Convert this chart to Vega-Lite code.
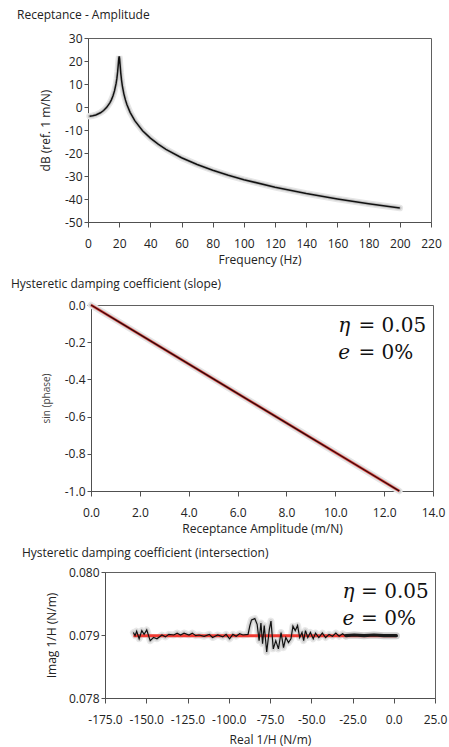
{
  "$schema": "https://vega.github.io/schema/vega-lite/v6.json",
  "padding": {"left": 11, "top": 8, "right": 5, "bottom": 4},
  "spacing": 11,
  "config": {
    "font": "Open Sans",
    "view": {"stroke": "#606060", "strokeWidth": 1},
    "axis": {"grid": false, "domainColor": "#505050", "tickColor": "#505050", "labelFont": "Open Sans", "labelFontSize": 12, "labelColor": "#222", "titleFont": "Open Sans", "titleFontSize": 12, "titleFontWeight": "normal", "titleColor": "#222", "labelOverlap": false, "labelFlush": false},
    "axisX": {"tickSize": 5, "labelPadding": 11, "titlePadding": 5.5},
    "axisY": {"tickSize": 4, "labelPadding": 2},
    "title": {"anchor": "start", "frame": "group", "fontSize": 12, "fontWeight": "normal", "font": "Open Sans", "color": "#222", "offset": 8}
  },
  "vconcat": [
    {
      "title": {"text": "Receptance - Amplitude", "dx": 0, "offset": 10},
      "spacing": 0,
      "hconcat": [
        {"width": 21, "height": 1, "view": {"stroke": null}, "data": {"values": []}, "mark": "point"},
        {
          "width": 343, "height": 184,
          "data": {"values": [
            {"x": 1, "y": -3.99}, {"x": 3, "y": -3.81}, {"x": 5, "y": -3.45}, {"x": 8, "y": -2.5}, {"x": 10, "y": -1.52},
            {"x": 12, "y": -0.15}, {"x": 14, "y": 1.81}, {"x": 15, "y": 3.12}, {"x": 16, "y": 4.79}, {"x": 17, "y": 7.0},
            {"x": 18, "y": 10.13}, {"x": 18.5, "y": 12.32}, {"x": 19, "y": 15.21}, {"x": 19.5, "y": 19.06}, {"x": 19.75, "y": 21.06},
            {"x": 20, "y": 22.02}, {"x": 20.25, "y": 21.04}, {"x": 20.5, "y": 18.96}, {"x": 21, "y": 14.86}, {"x": 21.5, "y": 11.73},
            {"x": 22, "y": 9.32}, {"x": 23, "y": 5.73}, {"x": 24, "y": 3.08}, {"x": 25, "y": 0.96}, {"x": 27, "y": -2.32},
            {"x": 30, "y": -5.94}, {"x": 35, "y": -10.29}, {"x": 40, "y": -13.54}, {"x": 45, "y": -16.18}, {"x": 50, "y": -18.4},
            {"x": 60, "y": -22.06}, {"x": 70, "y": -25.02}, {"x": 80, "y": -27.52}, {"x": 90, "y": -29.69}, {"x": 100, "y": -31.6},
            {"x": 120, "y": -34.88}, {"x": 140, "y": -37.62}, {"x": 160, "y": -39.99}, {"x": 180, "y": -42.06}, {"x": 200, "y": -43.91}
          ]},
          "encoding": {
            "x": {"field": "x", "type": "quantitative", "scale": {"domain": [0, 220], "nice": false},
                  "axis": {"values": [0, 20, 40, 60, 80, 100, 120, 140, 160, 180, 200, 220], "format": "d", "title": "Frequency (Hz)"}},
            "y": {"field": "y", "type": "quantitative", "scale": {"domain": [-50, 30], "nice": false},
                  "axis": {"values": [-50, -40, -30, -20, -10, 0, 10, 20, 30], "format": "d", "labelExpr": "replace(datum.label, '\u2212', '-')", "title": "dB (ref. 1 m/N)", "minExtent": 25, "titlePadding": 11}}
          },
          "layer": [
            {"mark": {"type": "line", "color": "#e6e6e6", "strokeWidth": 6.5, "strokeCap": "round"}},
            {"mark": {"type": "line", "color": "#c4c4c4", "strokeWidth": 3.5, "strokeCap": "round"}},
            {"mark": {"type": "line", "color": "#111111", "strokeWidth": 1.5}}
          ]
        }
      ]
    },
    {
      "title": {"text": "Hysteretic damping coefficient (slope)", "dx": -6, "offset": 1},
      "spacing": 0,
      "hconcat": [
        {"width": 23, "height": 1, "view": {"stroke": null}, "data": {"values": []}, "mark": "point"},
        {
          "width": 342, "height": 186,
          "encoding": {
            "x": {"field": "x", "type": "quantitative", "scale": {"domain": [0, 14], "nice": false},
                  "axis": {"values": [0, 2, 4, 6, 8, 10, 12, 14], "format": ".1f", "title": "Receptance Amplitude (m/N)"}},
            "y": {"field": "y", "type": "quantitative", "scale": {"domain": [-1, 0], "nice": false},
                  "axis": {"values": [-1, -0.8, -0.6, -0.4, -0.2, 0], "format": ".1f", "labelExpr": "replace(datum.label, '\u2212', '-')", "title": "sin (phase)", "titleFontSize": 10, "titleColor": "#444", "minExtent": 29, "titlePadding": 11}}
          },
          "layer": [
            {
              "data": {"name": "slope"},
              "layer": [
                {"mark": {"type": "line", "color": "#e6e6e6", "strokeWidth": 6.5, "strokeCap": "round"}},
                {"mark": {"type": "line", "color": "#c8c8c8", "strokeWidth": 3.5, "strokeCap": "round"}}
              ]
            },
            {
              "data": {"values": [{"x": 0, "y": 0}, {"x": 12.62, "y": -1.0}]},
              "mark": {"type": "line", "color": "#e8221e", "strokeWidth": 2.4}
            },
            {
              "data": {"name": "slope"},
              "mark": {"type": "line", "color": "#111111", "strokeWidth": 1.1}
            },
            {
              "data": {"values": [{"x": 10.12, "y": -0.147, "t": "η"}, {"x": 10.12, "y": -0.291, "t": "e"}]},
              "mark": {"type": "text", "font": "DejaVu Serif", "fontStyle": "italic", "fontSize": 20, "align": "left", "baseline": "alphabetic", "color": "#111"},
              "encoding": {"text": {"field": "t"}}
            },
            {
              "data": {"values": [{"x": 10.95, "y": -0.147, "t": "= 0.05"}, {"x": 10.95, "y": -0.291, "t": "= 0%"}]},
              "mark": {"type": "text", "font": "DejaVu Serif", "fontSize": 20, "align": "left", "baseline": "alphabetic", "color": "#111"},
              "encoding": {"text": {"field": "t"}}
            }
          ]
        }
      ]
    },
    {
      "title": {"text": "Hysteretic damping coefficient (intersection)", "dx": 5, "offset": 6},
      "spacing": 0,
      "hconcat": [
        {"width": 27, "height": 1, "view": {"stroke": null}, "data": {"values": []}, "mark": "point"},
        {
          "width": 330, "height": 126,
          "encoding": {
            "x": {"field": "x", "type": "quantitative", "scale": {"domain": [-175, 25], "nice": false},
                  "axis": {"values": [-175, -150, -125, -100, -75, -50, -25, 0, 25], "format": ".1f", "labelExpr": "replace(datum.label, '\u2212', '-')", "title": "Real 1/H (N/m)", "titlePadding": 9}},
            "y": {"field": "y", "type": "quantitative", "scale": {"domain": [0.078, 0.08], "nice": false, "zero": false},
                  "axis": {"values": [0.078, 0.079, 0.08], "format": ".3f", "title": "Imag 1/H (N/m)", "minExtent": 42, "titlePadding": 5}}
          },
          "layer": [
            {
              "data": {"name": "meas"},
              "layer": [
                {"mark": {"type": "line", "color": "#e8e8e8", "strokeWidth": 7, "strokeCap": "round", "strokeJoin": "round"}},
                {"mark": {"type": "line", "color": "#d0d0d0", "strokeWidth": 4, "strokeCap": "round", "strokeJoin": "round"}}
              ]
            },
            {
              "data": {"name": "dense"},
              "mark": {"type": "line", "color": "#d0d0d0", "strokeWidth": 7, "strokeCap": "round"}
            },
            {
              "data": {"values": [{"x": -157.8, "y": 0.07899}, {"x": 1.6, "y": 0.07899}]},
              "mark": {"type": "line", "color": "#f03a32", "strokeWidth": 3}
            },
            {
              "data": {"name": "meas"},
              "mark": {"type": "line", "color": "#111111", "strokeWidth": 1.2}
            },
            {
              "data": {"name": "dense"},
              "mark": {"type": "line", "color": "#1a1a1a", "strokeWidth": 3.2, "strokeCap": "round"}
            },
            {
              "data": {"values": [{"x": -31.0, "y": 0.079594, "t": "η"}, {"x": -31.0, "y": 0.079156, "t": "e"}]},
              "mark": {"type": "text", "font": "DejaVu Serif", "fontStyle": "italic", "fontSize": 20, "align": "left", "baseline": "alphabetic", "color": "#111"},
              "encoding": {"text": {"field": "t"}}
            },
            {
              "data": {"values": [{"x": -19.8, "y": 0.079594, "t": "= 0.05"}, {"x": -19.8, "y": 0.079156, "t": "= 0%"}]},
              "mark": {"type": "text", "font": "DejaVu Serif", "fontSize": 20, "align": "left", "baseline": "alphabetic", "color": "#111"},
              "encoding": {"text": {"field": "t"}}
            }
          ]
        }
      ]
    }
  ],
  "datasets": {
    "slope": [
      {"x": 0.0, "y": 0.0}, {"x": 0.01, "y": -0.0008}, {"x": 0.5, "y": -0.0396}, {"x": 1, "y": -0.0792}, {"x": 2, "y": -0.1585},
      {"x": 3, "y": -0.2377}, {"x": 4, "y": -0.317}, {"x": 5, "y": -0.3962}, {"x": 6, "y": -0.4754}, {"x": 7, "y": -0.5547},
      {"x": 8, "y": -0.6339}, {"x": 9, "y": -0.7132}, {"x": 10, "y": -0.7924}, {"x": 11, "y": -0.8716}, {"x": 12, "y": -0.9509},
      {"x": 12.62, "y": -1.0}
    ],
    "meas": [
      {"x": -157.8, "y": 0.07904}, {"x": -156.8, "y": 0.07899}, {"x": -155.8, "y": 0.07906}, {"x": -154.3, "y": 0.07894},
      {"x": -152.7, "y": 0.07907}, {"x": -151.3, "y": 0.07901}, {"x": -149.7, "y": 0.07908}, {"x": -147.6, "y": 0.07891},
      {"x": -145.6, "y": 0.07896}, {"x": -143.5, "y": 0.07894}, {"x": -140.5, "y": 0.079}, {"x": -138.4, "y": 0.07897},
      {"x": -136.3, "y": 0.07901}, {"x": -133.3, "y": 0.079}, {"x": -131.3, "y": 0.07903}, {"x": -129.2, "y": 0.079},
      {"x": -127.1, "y": 0.07903}, {"x": -124.1, "y": 0.079}, {"x": -122.1, "y": 0.07903}, {"x": -120.0, "y": 0.07899},
      {"x": -118.0, "y": 0.079}, {"x": -114.9, "y": 0.07898}, {"x": -111.8, "y": 0.07901}, {"x": -109.8, "y": 0.07896},
      {"x": -106.7, "y": 0.079}, {"x": -103.6, "y": 0.07897}, {"x": -101.6, "y": 0.07901}, {"x": -99.5, "y": 0.07894},
      {"x": -97.5, "y": 0.07901}, {"x": -95.5, "y": 0.07898}, {"x": -93.4, "y": 0.07902}, {"x": -91.4, "y": 0.079},
      {"x": -88.3, "y": 0.07901}, {"x": -87.2, "y": 0.07915}, {"x": -86.2, "y": 0.07924}, {"x": -84.2, "y": 0.07926},
      {"x": -82.8, "y": 0.07917}, {"x": -81.6, "y": 0.07891}, {"x": -80.5, "y": 0.07919}, {"x": -79.5, "y": 0.07886},
      {"x": -78.5, "y": 0.07915}, {"x": -77.0, "y": 0.07873}, {"x": -75.4, "y": 0.07909}, {"x": -74.4, "y": 0.07922},
      {"x": -73.0, "y": 0.07878}, {"x": -71.5, "y": 0.07891}, {"x": -69.9, "y": 0.07878}, {"x": -68.3, "y": 0.07904},
      {"x": -66.8, "y": 0.0788}, {"x": -65.4, "y": 0.07896}, {"x": -63.8, "y": 0.07888}, {"x": -62.3, "y": 0.07894},
      {"x": -61.1, "y": 0.07914}, {"x": -59.7, "y": 0.07907}, {"x": -58.3, "y": 0.07915}, {"x": -57.0, "y": 0.07896},
      {"x": -55.6, "y": 0.07904}, {"x": -54.6, "y": 0.07891}, {"x": -53.5, "y": 0.07907}, {"x": -52.1, "y": 0.07896},
      {"x": -50.5, "y": 0.07904}, {"x": -48.8, "y": 0.07894}, {"x": -47.4, "y": 0.07903}, {"x": -45.4, "y": 0.07896},
      {"x": -43.3, "y": 0.07903}, {"x": -41.3, "y": 0.07896}, {"x": -39.2, "y": 0.07901}, {"x": -37.1, "y": 0.07898},
      {"x": -35.1, "y": 0.07903}, {"x": -33.1, "y": 0.07898}, {"x": -31.0, "y": 0.07902}, {"x": -29.0, "y": 0.07898}
    ],
    "dense": [
      {"x": -29.0, "y": 0.07899}, {"x": -24.0, "y": 0.079}, {"x": -18.0, "y": 0.07899}, {"x": -12.0, "y": 0.079},
      {"x": -6.0, "y": 0.07899}, {"x": 0.0, "y": 0.07899}, {"x": 1.6, "y": 0.07899}
    ]
  }
}
